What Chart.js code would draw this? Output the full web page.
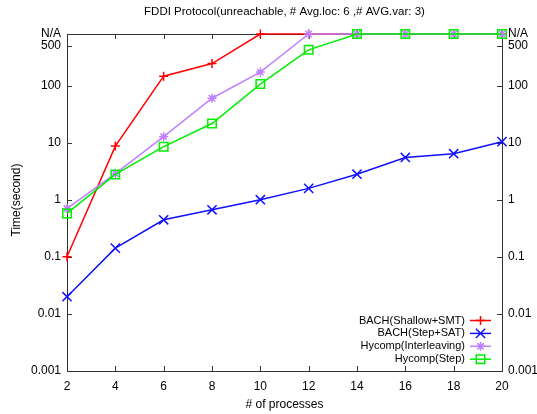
<!DOCTYPE html>
<html>
<head>
<meta charset="utf-8">
<script src="https://cdn.jsdelivr.net/npm/chart.js@4/dist/chart.umd.min.js"></script>
<style>
  html, body { margin: 0; padding: 0; background: #fff; }
  #wrap { width: 537px; height: 414px; }
</style>
</head>
<body>
<div id="wrap"><canvas id="chart"></canvas></div>
<script>
// timeouts are plotted at the "N/A" level on top of the axis
const NA = 800;

const processes = [2, 4, 6, 8, 10, 12, 14, 16, 18, 20];
const bachShallowSmt = [0.1, 8.7, 146, 243, NA, NA, NA, NA, NA, NA];
const bachStepSat = [0.02, 0.142, 0.445, 0.667, 1.0, 1.58, 2.8, 5.5, 6.4, 10.4];
const hycompInterleaving = [0.70, 2.86, 12.7, 60, 172, NA, NA, NA, NA, NA];
const hycompStep = [0.575, 2.77, 8.5, 21.6, 106, 422, NA, NA, NA, NA];

const yTicks = [0.001, 0.01, 0.1, 1, 10, 100, 500, NA];
const yTickLabels = ['0.001', '0.01', '0.1', '1', '10', '100', '500', 'N/A'];
const xTicks = [2, 4, 6, 8, 10, 12, 14, 16, 18, 20];

const FONT = 'Liberation Sans';
const FONT_SIZE = 12;
const toPoints = (values) => values.map((y, i) => ({ x: processes[i], y }));

const series = (label, values, color, pointStyle, radius, order) => ({
    label,
    data: toPoints(values),
    borderColor: color,
    backgroundColor: color,
    pointBorderColor: color,
    pointBackgroundColor: 'rgba(0,0,0,0)',
    pointStyle,
    pointRadius: radius,
    pointBorderWidth: 1.5,
    borderWidth: 1.5,
    tension: 0,
    clip: 10,
    order,
});

const datasets = [
    series('BACH(Shallow+SMT)', bachShallowSmt, '#ff0000', 'cross', 4.5, 4),
    series('BACH(Step+SAT)', bachStepSat, '#1010ff', 'crossRot', 6.5, 3),
    series('Hycomp(Interleaving)', hycompInterleaving, '#c080ff', 'star', 4.5, 2),
    series('Hycomp(Step)', hycompStep, '#00ee00', 'rect', 6, 1),
];

const logAxis = (position, width) => ({
    type: 'logarithmic',
    position,
    min: 0.001,
    max: NA,
    grid: { display: false, drawTicks: false },
    border: { display: false },
    afterBuildTicks: (scale) => {
        scale.ticks = yTicks.map((value) => ({ value }));
    },
    afterFit: (scale) => {
        scale.width = width;
    },
    ticks: {
        autoSkip: false,
        padding: 6,
        color: '#000',
        font: { family: FONT, size: FONT_SIZE },
        callback: (value) => yTickLabels[yTicks.indexOf(value)],
    },
});

// frame, inward tick marks, titles and the legend box
const decorations = {
    id: 'decorations',
    beforeDatasetsDraw(chart) {
        const { ctx, chartArea: a, scales } = chart;
        ctx.save();
        ctx.strokeStyle = '#333';
        ctx.lineWidth = 1;
        ctx.beginPath();
        xTicks.forEach((v) => {
            const px = Math.round(scales.x.getPixelForValue(v)) + 0.5;
            ctx.moveTo(px, a.bottom);
            ctx.lineTo(px, a.bottom - 5);
            ctx.moveTo(px, a.top);
            ctx.lineTo(px, a.top + 5);
        });
        yTicks.forEach((v) => {
            const py = Math.round(scales.y.getPixelForValue(v)) + 0.5;
            ctx.moveTo(a.left, py);
            ctx.lineTo(a.left + 5, py);
            ctx.moveTo(a.right, py);
            ctx.lineTo(a.right - 5, py);
        });
        ctx.stroke();
        ctx.strokeRect(Math.round(a.left) + 0.5, Math.round(a.top) + 0.5,
            Math.round(a.right - a.left), Math.round(a.bottom - a.top));
        ctx.restore();
    },
    afterDraw(chart) {
        const { ctx, chartArea: a } = chart;
        const cx = (a.left + a.right) / 2;
        ctx.save();
        ctx.fillStyle = '#000';
        ctx.font = `11.5px "${FONT}"`;
        ctx.textAlign = 'center';
        ctx.textBaseline = 'middle';
        ctx.fillText('FDDI Protocol(unreachable, # Avg.loc: 6 ,# AVG.var: 3)', cx, 12);
        ctx.font = `${FONT_SIZE}px "${FONT}"`;
        ctx.fillText('# of processes', cx, 405);
        ctx.save();
        ctx.translate(17, 200);
        ctx.rotate(-Math.PI / 2);
        ctx.fillText('Time(second)', 0, 0);
        ctx.restore();

        // legend: right-aligned labels with line + marker samples
        ctx.font = `11px "${FONT}"`;
        ctx.textAlign = 'right';
        chart.data.datasets.forEach((ds, i) => {
            const y = 320.5 + i * 12.9;
            ctx.fillStyle = '#000';
            ctx.fillText(ds.label, 465, y);
            ctx.strokeStyle = ds.borderColor;
            ctx.lineWidth = ds.borderWidth;
            ctx.beginPath();
            ctx.moveTo(470, y);
            ctx.lineTo(491, y);
            ctx.stroke();
            ctx.fillStyle = ds.pointBackgroundColor;
            ctx.lineWidth = ds.pointBorderWidth;
            Chart.helpers.drawPoint(ctx, {
                pointStyle: ds.pointStyle,
                radius: ds.pointRadius,
                rotation: 0,
                borderWidth: ds.pointBorderWidth,
            }, 480.5, y);
        });
        ctx.restore();
    },
};

new Chart(document.getElementById('chart'), {
    type: 'line',
    data: { datasets },
    options: {
        responsive: true,
        maintainAspectRatio: false,
        animation: false,
        layout: { padding: { top: 34, left: 0, right: 0, bottom: 0 } },
        plugins: {
            legend: { display: false },
            tooltip: { enabled: false },
        },
        scales: {
            x: {
                type: 'linear',
                min: 2,
                max: 20,
                grid: { display: false, drawTicks: false },
                border: { display: false },
                afterBuildTicks: (scale) => {
                    scale.ticks = xTicks.map((value) => ({ value }));
                },
                afterFit: (scale) => {
                    scale.height = 43;
                },
                ticks: {
                    autoSkip: false,
                    maxRotation: 0,
                    padding: 8,
                    color: '#000',
                    font: { family: FONT, size: FONT_SIZE },
                },
            },
            y: logAxis('left', 67),
            y2: logAxis('right', 35),
        },
    },
    plugins: [decorations],
});
</script>
</body>
</html>
